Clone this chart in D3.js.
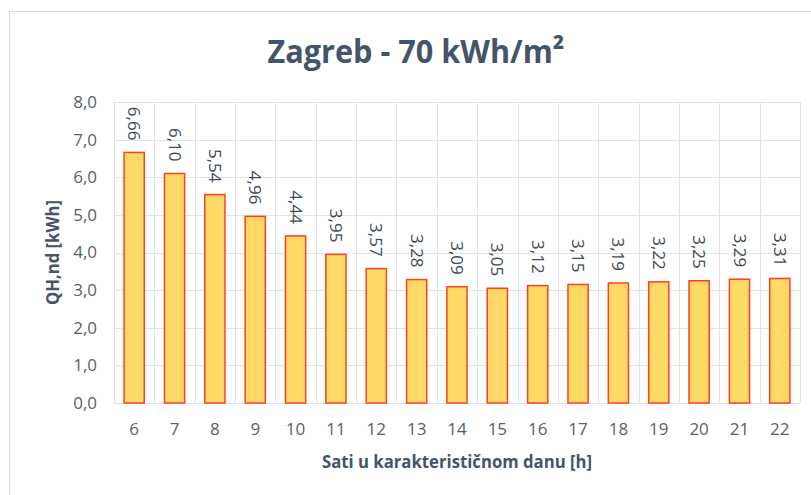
<!DOCTYPE html>
<html>
<head>
<meta charset="utf-8">
<script src="https://cdn.jsdelivr.net/npm/d3@7"></script>
<style>
  html, body { margin: 0; padding: 0; background: #fff; }
  svg { display: block; }
</style>
</head>
<body>
<svg id="chart" width="811" height="495"></svg>
<script>
const categories = ["6","7","8","9","10","11","12","13","14","15","16","17","18","19","20","21","22"];
const values = [6.66, 6.10, 5.54, 4.96, 4.44, 3.95, 3.57, 3.28, 3.09, 3.05, 3.12, 3.15, 3.19, 3.22, 3.25, 3.29, 3.31];
const yTicks = [0, 1, 2, 3, 4, 5, 6, 7, 8];
const titleText = "Zagreb - 70 kWh/m²";
const xTitle = "Sati u karakterističnom danu [h]";
const yTitle = "QH,nd [kWh]";

(function () {
const svg = d3.select("#chart");
const fmt = v => v.toFixed(2).replace(".", ",");
const fmtTick = v => v.toFixed(1).replace(".", ",");

// outer chart border
svg.append("rect")
  .attr("x", 9.5).attr("y", 11.5)
  .attr("width", 820).attr("height", 500)
  .attr("fill", "none").attr("stroke", "#D9D9D9").attr("stroke-width", 1);

const pLeft = 114, pRight = 800, pTop = 102, pBottom = 403;

const x = d3.scaleBand().domain(categories).range([pLeft, pRight])
  .paddingInner(0.5).paddingOuter(0.25);
const y = d3.scaleLinear().domain([0, 8]).range([pBottom, pTop]);

// horizontal gridlines
svg.append("g").selectAll("line").data(yTicks).join("line")
  .attr("x1", pLeft).attr("x2", pRight)
  .attr("y1", d => Math.round(y(d)) + 0.5).attr("y2", d => Math.round(y(d)) + 0.5)
  .attr("stroke", "#E1E1E8").attr("stroke-width", 1);

// vertical gridlines at category boundaries
const step = x.step();
const bounds = d3.range(categories.length + 1).map(i => pLeft + i * step);
svg.append("g").selectAll("line").data(bounds).join("line")
  .attr("x1", d => Math.round(d) + 0.5).attr("x2", d => Math.round(d) + 0.5)
  .attr("y1", pTop).attr("y2", pBottom)
  .attr("stroke", "#E1E1E8").attr("stroke-width", 1);

// bars
svg.append("g").selectAll("rect").data(values).join("rect")
  .attr("x", (d, i) => x(categories[i]))
  .attr("y", d => y(d))
  .attr("width", x.bandwidth())
  .attr("height", d => y(0) - y(d))
  .attr("fill", "#FFD966")
  .attr("stroke", "#FF4020")
  .attr("stroke-width", 1.5);

// value labels (rotated)
svg.append("g").selectAll("text").data(values).join("text")
  .attr("transform", (d, i) => `translate(${x(categories[i]) + x.bandwidth() / 2},${y(d) - 12}) rotate(90)`)
  .attr("text-anchor", "end")
  .attr("dy", "0.35em")
  .attr("font-family", "'Open Sans', sans-serif")
  .attr("font-size", 17)
  .attr("fill", "#404A58")
  .text(d => fmt(d));

// y axis tick labels
const yAxis = d3.axisLeft(y).tickValues(yTicks).tickFormat(fmtTick).tickSize(0).tickPadding(17);
const gy = svg.append("g").attr("transform", `translate(${pLeft},0)`).call(yAxis);
gy.select(".domain").remove();
gy.selectAll("text")
  .attr("font-family", "'Open Sans', sans-serif")
  .attr("font-size", 17)
  .attr("fill", "#595F6B");

// x axis tick labels
const xAxis = d3.axisBottom(x).tickSize(0).tickPadding(20);
const gx = svg.append("g").attr("transform", `translate(0,${pBottom})`).call(xAxis);
gx.select(".domain").remove();
gx.selectAll("text")
  .attr("font-family", "'Open Sans', sans-serif")
  .attr("font-size", 17)
  .attr("fill", "#595F6B");

// title
svg.append("text")
  .attr("x", 416).attr("y", 63)
  .attr("text-anchor", "middle")
  .attr("font-family", "'Open Sans', sans-serif")
  .attr("font-weight", "bold")
  .attr("font-size", 33)
  .attr("fill", "#44546A")
  .attr("textLength", 297)
  .attr("lengthAdjust", "spacingAndGlyphs")
  .text(titleText);

// x axis title
svg.append("text")
  .attr("x", (pLeft + pRight) / 2).attr("y", 468)
  .attr("text-anchor", "middle")
  .attr("font-family", "'Open Sans', sans-serif")
  .attr("font-weight", "bold")
  .attr("font-size", 17)
  .attr("fill", "#44546A")
  .attr("textLength", 270)
  .attr("lengthAdjust", "spacingAndGlyphs")
  .text(xTitle);

// y axis title
svg.append("text")
  .attr("transform", `translate(59,${(pTop + pBottom) / 2}) rotate(-90)`)
  .attr("text-anchor", "middle")
  .attr("font-family", "'Open Sans', sans-serif")
  .attr("font-weight", "bold")
  .attr("font-size", 17)
  .attr("fill", "#44546A")
  .attr("textLength", 105)
  .attr("lengthAdjust", "spacingAndGlyphs")
  .text(yTitle);
})();
</script>
</body>
</html>
